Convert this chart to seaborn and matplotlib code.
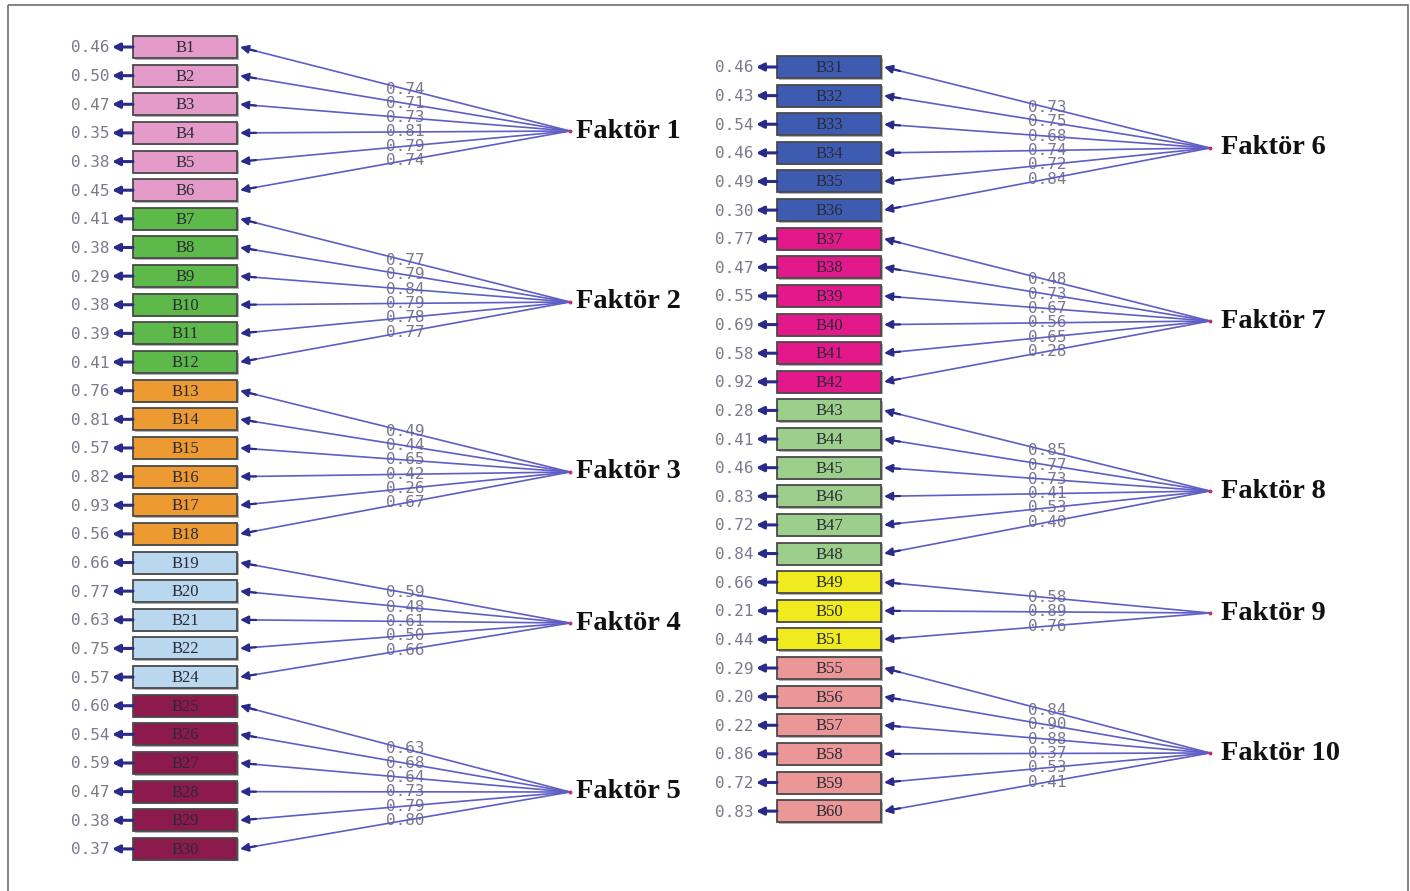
import matplotlib
matplotlib.use("Agg")
import matplotlib.pyplot as plt
from matplotlib.patches import Rectangle
import seaborn as sns
import pandas as pd

# --- data ---
factors_left = ['Faktör 1', 'Faktör 2', 'Faktör 3', 'Faktör 4', 'Faktör 5']
factors_right = ['Faktör 6', 'Faktör 7', 'Faktör 8', 'Faktör 9', 'Faktör 10']

items_left = ['B1', 'B2', 'B3', 'B4', 'B5', 'B6',
              'B7', 'B8', 'B9', 'B10', 'B11', 'B12',
              'B13', 'B14', 'B15', 'B16', 'B17', 'B18',
              'B19', 'B20', 'B21', 'B22', 'B24',
              'B25', 'B26', 'B27', 'B28', 'B29', 'B30']
errors_left = [0.46, 0.50, 0.47, 0.35, 0.38, 0.45,
               0.41, 0.38, 0.29, 0.38, 0.39, 0.41,
               0.76, 0.81, 0.57, 0.82, 0.93, 0.56,
               0.66, 0.77, 0.63, 0.75, 0.57,
               0.60, 0.54, 0.59, 0.47, 0.38, 0.37]
loadings_left = [0.74, 0.71, 0.73, 0.81, 0.79, 0.74,
                 0.77, 0.79, 0.84, 0.79, 0.78, 0.77,
                 0.49, 0.44, 0.65, 0.42, 0.26, 0.67,
                 0.59, 0.48, 0.61, 0.50, 0.66,
                 0.63, 0.68, 0.64, 0.73, 0.79, 0.80]
sizes_left = [6, 6, 6, 5, 6]

items_right = ['B31', 'B32', 'B33', 'B34', 'B35', 'B36',
               'B37', 'B38', 'B39', 'B40', 'B41', 'B42',
               'B43', 'B44', 'B45', 'B46', 'B47', 'B48',
               'B49', 'B50', 'B51',
               'B55', 'B56', 'B57', 'B58', 'B59', 'B60']
errors_right = [0.46, 0.43, 0.54, 0.46, 0.49, 0.30,
                0.77, 0.47, 0.55, 0.69, 0.58, 0.92,
                0.28, 0.41, 0.46, 0.83, 0.72, 0.84,
                0.66, 0.21, 0.44,
                0.29, 0.20, 0.22, 0.86, 0.72, 0.83]
loadings_right = [0.73, 0.75, 0.68, 0.74, 0.72, 0.84,
                  0.48, 0.73, 0.67, 0.56, 0.65, 0.28,
                  0.85, 0.77, 0.73, 0.41, 0.53, 0.40,
                  0.58, 0.89, 0.76,
                  0.84, 0.90, 0.88, 0.37, 0.53, 0.41]
sizes_right = [6, 6, 6, 3, 6]

# --- styling / layout ---
colors_left = ['#e49bc9', '#5db949', '#ee9a33', '#b9d7ee', '#8c1a4d']
colors_right = ['#3d5bb1', '#e2188b', '#9ccf8b', '#efeb1f', '#ec9797']

sns.set_theme(style="white")
plt.rcParams['font.family'] = ['DejaVu Sans']

fig = plt.figure(figsize=(14.1, 8.91), dpi=100)
ax = fig.add_axes([0, 0, 1, 1])
ax.set_xlim(0, 1410)
ax.set_ylim(891, 0)
ax.axis('off')

# outer frame
ax.add_patch(Rectangle((8, 5), 1400, 890, fill=False, edgecolor='#707070', lw=1.2))

line_col = '#5e5ec4'
head_col = '#2a2a8a'
num_col = '#7a7a8c'


def draw_column(items, errors, loadings, sizes, factors, colors,
                box_x, y0, step, fac_x, fac_y, err_txt_x, lab_gap):
    df = pd.DataFrame({'item': items, 'err': errors, 'load': loadings})
    df['group'] = sum([[g] * n for g, n in enumerate(sizes)], [])
    df['y'] = [y0 + i * step for i in range(len(df))]
    box_w, box_h = 104, 22
    for _, r in df.iterrows():
        g = r['group']
        y = r['y']
        # item box
        ax.add_patch(Rectangle((box_x + 1.5, y - box_h / 2 + 1.5), box_w, box_h,
                               facecolor='#b0b0b0', edgecolor='none', zorder=2))
        ax.add_patch(Rectangle((box_x, y - box_h / 2), box_w, box_h,
                               facecolor=colors[g], edgecolor='#4a4a4a', lw=1.3, zorder=3))
        ax.text(box_x + box_w / 2, y + 1, r['item'], ha='center', va='center',
                fontsize=12, family=['Liberation Serif'], color='#2a2a35', zorder=4)
        # error arrow and value
        ax.annotate('', xy=(box_x - 21, y), xytext=(box_x, y),
                    arrowprops=dict(arrowstyle='-|>', color=head_col, lw=2.2,
                                    mutation_scale=11, shrinkA=0, shrinkB=0), zorder=4)
        ax.text(err_txt_x, y + 1, f"{r['err']:.2f}", ha='right', va='center',
                fontsize=11.5, family=['DejaVu Sans Mono'], color=num_col, zorder=4)
        # loading path from factor to item
        fy = fac_y[g]
        ex = box_x + box_w + 3
        mx, my = (ex + fac_x) / 2, (y + fy) / 2
        ax.text(mx, my, f"{r['load']:.2f}", ha='center', va='center',
                fontsize=11.5, family=['DejaVu Sans Mono'], color=num_col, zorder=4)
        ax.plot([fac_x, ex + 10], [fy, y + (fy - y) * 10 / (fac_x - ex)],
                color=line_col, lw=1.2, zorder=5)
        ax.annotate('', xy=(ex, y), xytext=(ex + 16, y + (fy - y) * 16 / (fac_x - ex)),
                    arrowprops=dict(arrowstyle='-|>', color=head_col, lw=1.6,
                                    mutation_scale=12, shrinkA=0, shrinkB=0), zorder=6)
    for g, name in enumerate(factors):
        ax.text(fac_x + lab_gap, fac_y[g], name, ha='left', va='center', fontsize=20.5,
                fontweight='bold', family=['Liberation Serif'], color='#111111', zorder=6)
    sns.scatterplot(x=[fac_x] * len(factors), y=fac_y, ax=ax, color='#c0306a',
                    s=8, linewidth=0, zorder=7, legend=False)


draw_column(items_left, errors_left, loadings_left, sizes_left, factors_left,
            colors_left, box_x=133, y0=47, step=28.64, fac_x=570,
            fac_y=[131, 302, 472, 623, 792], err_txt_x=110, lab_gap=6)
draw_column(items_right, errors_right, loadings_right, sizes_right, factors_right,
            colors_right, box_x=777, y0=67, step=28.62, fac_x=1210,
            fac_y=[148, 321, 491, 613, 753], err_txt_x=753, lab_gap=11)

ax.set_xlim(0, 1410)
ax.set_ylim(891, 0)
ax.axis('off')
fig.savefig('out.png', dpi=100, facecolor='white')
